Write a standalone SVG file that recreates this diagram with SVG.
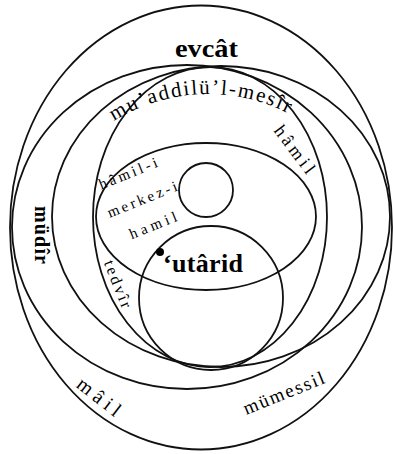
<svg xmlns="http://www.w3.org/2000/svg" width="393" height="454" viewBox="0 0 393 454">
<style>
.c{fill:none;stroke:#111;stroke-width:1.8}
.t{font-family:"Liberation Serif",serif;fill:#000}
.b{font-weight:bold}
</style>
<defs>
<path id="arcQ" d="M114,121.2 A176,176 0 0 1 290,114.3"/>
</defs>
<rect width="393" height="454" fill="#fff"/>
<g id="circles">
<ellipse id="c1" class="c" cx="201" cy="227.5" rx="191" ry="222"/>
<ellipse id="c2" class="c" cx="187" cy="227" rx="175" ry="162"/>
<ellipse id="t" class="c" cx="221" cy="216.5" rx="169" ry="150.5"/>
<ellipse id="q" class="c" cx="210" cy="217" rx="117" ry="150"/>
<ellipse id="h" class="c" cx="206" cy="216.5" rx="110" ry="73.5"/>
<circle id="s" class="c" cx="206" cy="190" r="27"/>
<circle id="e" class="c" cx="211" cy="298" r="72"/>
<circle id="dot" cx="160" cy="252" r="4" fill="#000"/>
</g>
<g id="labels">
<text class="t b" x="175" y="57" font-size="26" textLength="63" lengthAdjust="spacingAndGlyphs">evcât</text>
<text class="t" font-size="21"><textPath href="#arcQ" textLength="182" lengthAdjust="spacing">mu’addilü’l-mesîr</textPath></text>
<text class="t" x="290" y="153" font-size="18" transform="rotate(53 290 153)" text-anchor="middle" textLength="56" lengthAdjust="spacing">hâmil</text>
<text class="t b" x="35" y="235" font-size="20" transform="rotate(90 35 235)" text-anchor="middle" textLength="58" lengthAdjust="spacing">müdîr</text>
<text class="t" x="130" y="178" font-size="15" transform="rotate(-22 130 178)" text-anchor="middle" textLength="62" lengthAdjust="spacing">hâmil-i</text>
<text class="t" x="144" y="204" font-size="15" transform="rotate(-22 144 204)" text-anchor="middle" textLength="74" lengthAdjust="spacing">merkez-i</text>
<text class="t" x="155" y="230" font-size="15" transform="rotate(-22 155 230)" text-anchor="middle" textLength="50" lengthAdjust="spacing">hamil</text>
<text class="t" x="113" y="286" font-size="16" transform="rotate(68 113 286)" text-anchor="middle" textLength="50" lengthAdjust="spacing">tedvîr</text>
<text class="t b" x="163" y="272" font-size="26" textLength="80" lengthAdjust="spacing">‘utârid</text>
<text class="t" x="95" y="402" font-size="20" transform="rotate(38 95 402)" text-anchor="middle" textLength="50" lengthAdjust="spacing">mâil</text>
<text class="t" x="286" y="399" font-size="19" transform="rotate(-22 286 399)" text-anchor="middle" textLength="86" lengthAdjust="spacing">mümessil</text>
</g>
</svg>
